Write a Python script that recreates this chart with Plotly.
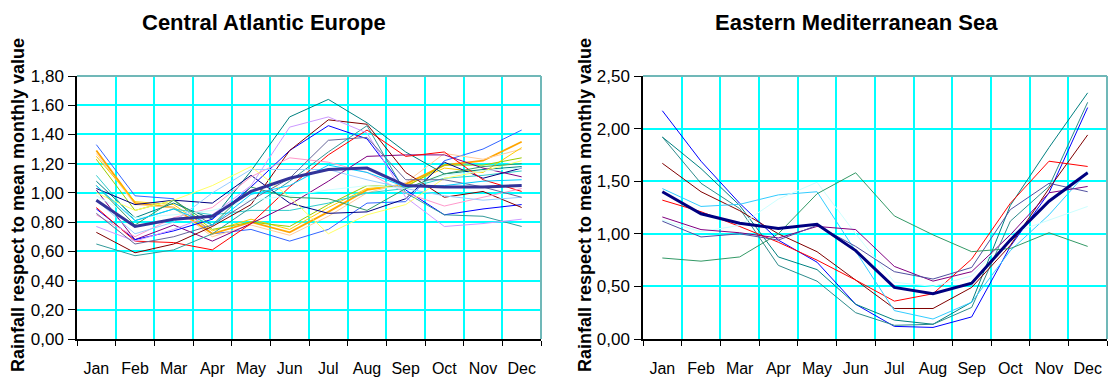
import plotly.graph_objects as go

months = ["Jan", "Feb", "Mar", "Apr", "May", "Jun", "Jul", "Aug", "Sep", "Oct", "Nov", "Dec"]

# ---- Central Atlantic Europe ----
cae_colors = ["#3366FF", "#FFA500", "#FFCC99", "#FFCC00", "#99CC00", "#33CCCC", "#008080",
              "#000080", "#800080", "#0000FF", "#FF0000", "#800000", "#339999", "#CC99FF",
              "#FF99CC", "#99CCFF", "#FFFF66", "#CCFFFF", "#339966", "#666699", "#00CCFF"]
cae_values = [
    [1.33, 0.98, 0.96, 0.72, 0.75, 0.67, 0.75, 0.93, 0.94, 1.22, 1.30, 1.43],
    [1.29, 0.93, 0.90, 0.72, 0.80, 0.73, 0.87, 1.02, 1.06, 1.19, 1.22, 1.35],
    [1.27, 0.92, 0.90, 0.70, 0.78, 0.71, 0.84, 1.00, 1.07, 1.27, 1.23, 1.30],
    [1.25, 0.94, 0.92, 0.74, 0.82, 0.75, 0.90, 1.03, 1.05, 1.17, 1.14, 1.31],
    [1.23, 0.88, 0.95, 0.75, 0.80, 0.77, 0.92, 1.05, 1.04, 1.19, 1.19, 1.24],
    [1.12, 0.81, 0.89, 0.85, 0.88, 0.88, 0.93, 1.00, 1.03, 1.10, 1.12, 1.15],
    [1.08, 0.83, 0.93, 0.82, 1.15, 1.52, 1.64, 1.48, 1.28, 1.13, 1.16, 1.18],
    [1.03, 0.92, 0.95, 0.93, 1.12, 0.93, 0.86, 0.87, 0.96, 1.21, 1.10, 1.17],
    [1.02, 0.68, 0.78, 0.67, 0.79, 0.92, 1.08, 1.25, 1.26, 1.26, 1.17, 1.11],
    [0.89, 0.68, 0.74, 0.82, 1.04, 1.29, 1.46, 1.37, 1.02, 0.85, 0.89, 0.92],
    [0.90, 0.67, 0.66, 0.61, 0.79, 1.04, 1.26, 1.43, 1.25, 1.28, 1.09, 1.01],
    [0.73, 0.59, 0.65, 0.77, 0.92, 1.29, 1.50, 1.47, 1.14, 0.97, 1.01, 0.90],
    [0.65, 0.57, 0.61, 0.72, 0.90, 1.08, 1.28, 1.46, 1.00, 0.85, 0.84, 0.77],
    [0.77, 0.67, 0.75, 0.85, 1.05, 1.45, 1.52, 1.41, 0.97, 0.77, 0.79, 0.82],
    [0.85, 0.70, 0.83, 0.90, 1.11, 1.24, 1.21, 1.14, 1.00, 0.91, 0.97, 1.03],
    [0.95, 0.72, 0.80, 1.00, 1.16, 1.16, 1.16, 1.09, 1.03, 0.98, 0.95, 0.97],
    [1.00, 0.88, 0.95, 1.05, 1.18, 0.97, 0.72, 0.85, 0.92, 1.10, 1.15, 1.22],
    [0.98, 0.83, 0.85, 0.88, 0.95, 0.98, 1.02, 1.05, 1.03, 1.12, 1.15, 1.17],
    [1.05, 0.78, 0.95, 0.78, 1.04, 0.97, 0.96, 0.88, 1.03, 1.13, 1.18, 1.20],
    [0.86, 0.65, 0.70, 0.78, 0.95, 1.10, 1.36, 1.38, 1.09, 1.09, 1.04, 0.97],
    [1.05, 0.81, 0.89, 0.78, 0.99, 1.05, 1.19, 1.14, 1.04, 1.05, 1.08, 1.09],
]
cae_mean = [0.95, 0.77, 0.82, 0.84, 1.01, 1.10, 1.16, 1.17, 1.05, 1.04, 1.04, 1.05]

# ---- Eastern Mediterranean Sea ----
ems_colors = ["#0000FF", "#008080", "#2E8B8B", "#800000", "#FF0000", "#33CCFF",
              "#CCFFFF", "#800080", "#5050A0", "#339966"]
ems_values = [
    [2.17, 1.69, 1.29, 0.94, 0.73, 0.33, 0.12, 0.11, 0.21, 0.88, 1.39, 2.20],
    [1.92, 1.62, 1.27, 0.78, 0.66, 0.33, 0.18, 0.14, 0.35, 1.27, 1.82, 2.34],
    [1.92, 1.48, 1.24, 0.70, 0.55, 0.25, 0.13, 0.14, 0.30, 1.12, 1.45, 2.25],
    [1.67, 1.40, 1.22, 1.00, 0.83, 0.56, 0.29, 0.29, 0.49, 0.89, 1.43, 1.94],
    [1.32, 1.21, 1.07, 0.92, 0.75, 0.56, 0.36, 0.43, 0.76, 1.29, 1.69, 1.64],
    [1.43, 1.26, 1.28, 1.37, 1.40, 0.84, 0.27, 0.19, 0.35, 0.84, 1.18, 1.59],
    [1.13, 1.02, 1.08, 1.33, 1.49, 1.00, 0.54, 0.50, 0.60, 1.00, 1.13, 1.26],
    [1.16, 1.04, 1.01, 0.96, 1.07, 1.04, 0.69, 0.55, 0.64, 0.99, 1.39, 1.45],
    [1.12, 0.97, 1.00, 0.94, 1.08, 0.88, 0.64, 0.57, 0.68, 1.23, 1.48, 1.40],
    [0.77, 0.74, 0.78, 1.00, 1.38, 1.58, 1.17, 0.99, 0.83, 0.86, 1.01, 0.88],
]
ems_mean = [1.40, 1.19, 1.10, 1.05, 1.09, 0.84, 0.49, 0.43, 0.53, 0.94, 1.31, 1.58]

titles = ["Central Atlantic Europe", "Eastern Mediterranean Sea"]
ytitle = "Rainfall respect to mean monthly value"

fig = go.Figure()

for vals, col in zip(cae_values, cae_colors):
    w = 1.8 if col == "#FFA500" else 1
    fig.add_trace(go.Scatter(x=months, y=vals, mode="lines", line=dict(color=col, width=w),
                             xaxis="x", yaxis="y", showlegend=False, hoverinfo="skip"))
fig.add_trace(go.Scatter(x=months, y=cae_mean, mode="lines", line=dict(color="#333399", width=3),
                         xaxis="x", yaxis="y", showlegend=False))

for vals, col in zip(ems_values, ems_colors):
    fig.add_trace(go.Scatter(x=months, y=vals, mode="lines", line=dict(color=col, width=1),
                             xaxis="x2", yaxis="y2", showlegend=False, hoverinfo="skip"))
fig.add_trace(go.Scatter(x=months, y=ems_mean, mode="lines", line=dict(color="#000080", width=3),
                         xaxis="x2", yaxis="y2", showlegend=False))

W, H = 1114, 379
ydom = [(379 - 339) / H, (379 - 76) / H]
font = "Liberation Sans, Arial, sans-serif"

xcommon = dict(type="category", tickson="boundaries", range=[-0.5, 11.5], showgrid=True,
               gridcolor="#00FFFF", gridwidth=1.5, ticks="outside", ticklen=5, tickcolor="black",
               showline=True, linecolor="black", linewidth=1.5, ticklabelstandoff=14,
               tickangle=0, automargin=False,
               tickfont=dict(family=font, size=16, color="black"),
               zeroline=False, fixedrange=True)
ycommon = dict(showgrid=True, gridcolor="#00FFFF", gridwidth=1.5, ticks="outside", ticklen=7,
               tickcolor="black", showline=True, linecolor="black", linewidth=1.5,
               tickformat=".2f", tickfont=dict(family=font, size=17, color="black"),
               ticklabelstandoff=1, automargin=False, zeroline=False, domain=ydom)

fig.update_layout(
    width=W, height=H, margin=dict(l=0, r=0, t=0, b=0),
    paper_bgcolor="white", plot_bgcolor="white", separators=",.",
    xaxis=dict(domain=[77 / W, 541 / W], anchor="y", **xcommon),
    yaxis=dict(range=[0, 1.8], dtick=0.2, anchor="x", **ycommon),
    xaxis2=dict(domain=[643 / W, 1107 / W], anchor="y2", **xcommon),
    yaxis2=dict(range=[0, 2.5], dtick=0.5, anchor="x2", **ycommon),
)

# top / right frame lines
for xr, yr in [("x domain", "y domain"), ("x2 domain", "y2 domain")]:
    fig.add_shape(type="line", xref=xr, yref=yr, x0=0, x1=1, y0=1, y1=1,
                  line=dict(color="#70B8B8", width=2))
    fig.add_shape(type="line", xref=xr, yref=yr, x0=1, x1=1, y0=0, y1=1,
                  line=dict(color="#70B8B8", width=2))

# titles
for xc, t in [(264, titles[0]), (856, titles[1])]:
    fig.add_annotation(text="<b>%s</b>" % t, x=xc / W, y=1 - 22 / H, xref="paper", yref="paper",
                       xanchor="center", yanchor="middle", showarrow=False,
                       font=dict(family=font, size=22, color="black"))
for xc in [18, 585]:
    fig.add_annotation(text="<b>%s</b>" % ytitle, x=xc / W, y=1 - 205 / H, xref="paper",
                       yref="paper", xanchor="center", yanchor="middle", textangle=-90,
                       showarrow=False, font=dict(family=font, size=18, color="black"))

fig.write_html("out.html")
